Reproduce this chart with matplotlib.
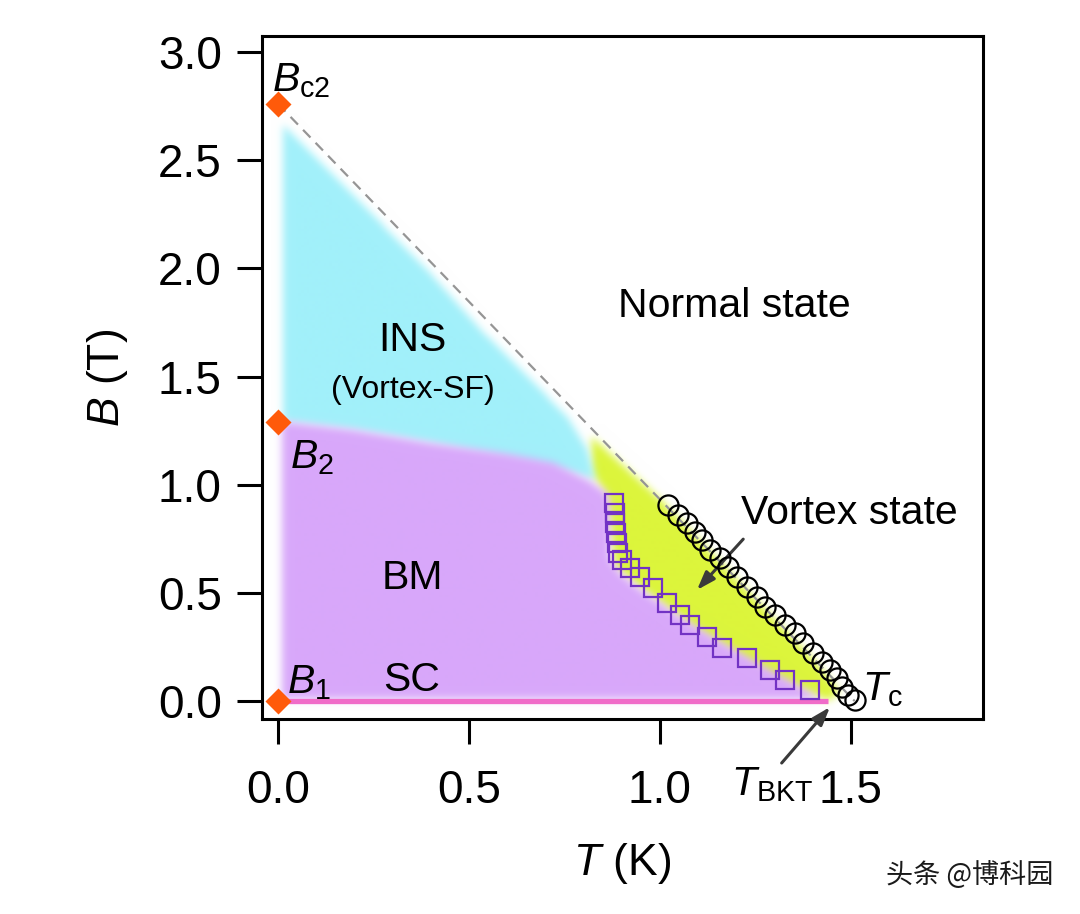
import numpy as np
import matplotlib
matplotlib.use('Agg')
import matplotlib.pyplot as plt
from matplotlib.path import Path

plt.rcParams['font.family'] = ['Liberation Sans', 'DejaVu Sans']
plt.rcParams['mathtext.fontset'] = 'custom'
plt.rcParams['mathtext.rm'] = 'Liberation Sans'
plt.rcParams['mathtext.it'] = 'Liberation Sans:italic'

# Tc points (open circles)
tc_T = [1.021, 1.047, 1.071, 1.092, 1.110, 1.131, 1.157, 1.178, 1.202, 1.228, 1.254, 1.275,
        1.301, 1.327, 1.353, 1.374, 1.401, 1.424, 1.445, 1.463, 1.476, 1.492, 1.510]
tc_B = [0.906, 0.860, 0.823, 0.781, 0.744, 0.698, 0.661, 0.620, 0.573, 0.527, 0.481, 0.434,
        0.398, 0.351, 0.314, 0.268, 0.222, 0.180, 0.143, 0.106, 0.065, 0.028, 0.005]

# TBKT points (open squares)
bkt_T = [0.880, 0.882, 0.882, 0.885, 0.887, 0.890, 0.901, 0.921, 0.948, 0.982, 1.018, 1.052,
         1.079, 1.123, 1.162, 1.228, 1.288, 1.327, 1.393]
bkt_B = [0.915, 0.869, 0.823, 0.777, 0.730, 0.684, 0.652, 0.615, 0.573, 0.522, 0.453, 0.398,
         0.351, 0.296, 0.245, 0.199, 0.143, 0.097, 0.051]

# critical fields at T = 0 (diamonds)
crit_T = [0.0, 0.0, 0.0]
crit_B = [2.76, 1.29, 0.0]

# Bc2 guide line
bc2_T = [0.0, 1.51]
bc2_B = [2.76, 0.0]

# SC line at B = 0
sc_T = [0.0, 1.44]
sc_B = [0.0, 0.0]

# phase regions (boundaries)
ins_T = [0.012, 0.012, 0.2, 0.4, 0.537, 0.668, 0.757, 0.809, 0.83, 0.75, 0.6, 0.4, 0.2, 0.012]
ins_B = [1.29, 2.66, 2.33, 1.97, 1.70, 1.47, 1.31, 1.16, 1.02, 1.06, 1.12, 1.19, 1.25, 1.29]

bm_T = [0.008, 0.008, 0.2, 0.4, 0.6, 0.72, 0.82, 0.865, 0.868, 0.9, 0.95, 1.05, 1.15, 1.25,
        1.35, 1.42, 0.008]
bm_B = [0.008, 1.29, 1.25, 1.19, 1.14, 1.10, 1.01, 0.95, 0.65, 0.58, 0.51, 0.39, 0.28, 0.18,
        0.08, 0.008, 0.008]

vortex_T = [0.82, 1.0, 1.2, 1.4, 1.47, 1.44, 1.3, 1.1, 0.95, 0.88, 0.86, 0.82]
vortex_B = [1.22, 0.93, 0.56, 0.19, 0.04, 0.0, 0.1, 0.32, 0.52, 0.62, 0.95, 1.05]

xlim = (-0.042, 1.846)
ylim = (-0.083, 3.074)


def blur(a, s):
    r = int(3 * s)
    k = np.exp(-0.5 * (np.arange(-r, r + 1) / s) ** 2)
    k /= k.sum()
    for ax_i in (0, 1):
        pad = [(0, 0), (0, 0)]
        pad[ax_i] = (r, r)
        p = np.pad(a, pad)
        n = a.shape[ax_i]
        out = np.zeros_like(a)
        for i, w in enumerate(k):
            if ax_i == 0:
                out += w * p[i:i + n, :]
            else:
                out += w * p[:, i:i + n]
        a = out
    return a


def region_image(regions, nx, ny):
    gx = np.linspace(xlim[0], xlim[1], nx)
    gy = np.linspace(ylim[0], ylim[1], ny)
    X, Y = np.meshgrid(gx, gy)
    pts = np.column_stack([X.ravel(), Y.ravel()])
    rgb = np.ones((ny, nx, 3))
    for T, B, col in regions:
        m = Path(np.column_stack([T, B])).contains_points(pts).reshape(ny, nx).astype(float)
        a = blur(m, 4.0)[..., None]
        c = np.array(matplotlib.colors.to_rgb(col))
        rgb = rgb * (1 - a) + c * a
    return rgb


fig = plt.figure(figsize=(10.8, 9.14), dpi=100)
ax = fig.add_axes([0.2426, 0.2133, 0.6676, 0.7473])

img = region_image([(vortex_T, vortex_B, '#dcf53c'),
                    (ins_T, ins_B, '#a2f0fa'),
                    (bm_T, bm_B, '#d8a8fa')], 721, 683)
ax.imshow(img, extent=[xlim[0], xlim[1], ylim[0], ylim[1]], origin='lower',
          aspect='auto', interpolation='bilinear', zorder=0)

ax.plot(sc_T, sc_B, color='#f06cc8', lw=3.8, solid_capstyle='butt', zorder=2)
ax.plot(bc2_T, bc2_B, color='#959595', lw=1.6, dashes=(4.8, 3.3), zorder=3)
ax.plot(bkt_T, bkt_B, 's', ms=13.5, mfc='none', mec='#7232c4', mew=1.6, zorder=4)
ax.plot(tc_T, tc_B, 'o', ms=14.5, mfc='none', mec='black', mew=1.6, zorder=5)
ax.plot(crit_T, crit_B, 'D', ms=13.5, color='#ff5a0a', mec='none', zorder=6, clip_on=False)

ax.set_xlim(*xlim)
ax.set_ylim(*ylim)
ax.set_xticks([0.0, 0.5, 1.0, 1.5])
ax.set_yticks([0.0, 0.5, 1.0, 1.5, 2.0, 2.5, 3.0])
ax.set_xticklabels(['0.0', '0.5', '1.0', '1.5'])
ax.set_yticklabels(['0.0', '0.5', '1.0', '1.5', '2.0', '2.5', '3.0'])
for lab in ax.get_xticklabels() + ax.get_yticklabels():
    lab.set_fontfamily(['Liberation Sans Narrow', 'Liberation Sans'])
    lab.set_fontsize(33)
ax.tick_params(axis='both', direction='out', length=18, width=2.2)
ax.tick_params(axis='x', pad=18)
ax.tick_params(axis='y', pad=11)
for s in ax.spines.values():
    s.set_linewidth(2.2)

ax.set_xlabel('$T$ (K)', fontsize=32, labelpad=20)
ax.set_ylabel('$B$ (T)', fontsize=32, labelpad=20)

fs = 29.5
ax.text(0.351, 1.669, 'INS', fontsize=fs, ha='center', va='center')
ax.text(0.352, 1.44, '(Vortex-SF)', fontsize=23, ha='center', va='center')
ax.text(0.351, 0.569, 'BM', fontsize=fs, ha='center', va='center')
ax.text(0.351, 0.097, 'SC', fontsize=fs, ha='center', va='center')
ax.text(1.196, 1.826, 'Normal state', fontsize=fs, ha='center', va='center')
ax.text(1.497, 0.869, 'Vortex state', fontsize=fs, ha='center', va='center')

ax.text(-0.016, 2.816, r'$B_{\rm c2}$', fontsize=fs, ha='left', va='baseline')
ax.text(0.031, 1.077, r'$B_2$', fontsize=fs, ha='left', va='baseline')
ax.text(0.024, 0.037, r'$B_1$', fontsize=fs, ha='left', va='baseline')
ax.text(1.530, 0.005, r'$T_{\rm c}$', fontsize=fs, ha='left', va='baseline')
ax.text(1.185, -0.435, r'$T_{\rm BKT}$', fontsize=fs, ha='left', va='baseline',
        clip_on=False)

arrow = dict(arrowstyle='-|>,head_length=1.1,head_width=0.38', color='#3a3a3a', lw=2.2)
ax.annotate('', xy=(1.092, 0.504), xytext=(1.223, 0.758), arrowprops=arrow)
ax.annotate('', xy=(1.450, -0.018), xytext=(1.314, -0.296), arrowprops=arrow,
            annotation_clip=False)

fig.text(0.898, 0.0427, '头条 @博科园', fontsize=19.5, ha='center', va='center',
         color='#1a1a1a', family=['Noto Sans CJK SC', 'DejaVu Sans'])

fig.savefig('out.png', dpi=100)
